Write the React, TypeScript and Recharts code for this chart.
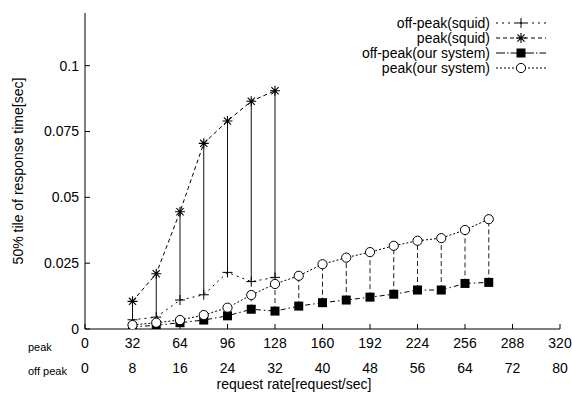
import React from 'react';
import { LineChart, Line, XAxis, YAxis, Legend, Label } from 'recharts';

// x positions on the "peak" scale (off-peak rate = peak / 4)
const squidRates = [32, 48, 64, 80, 96, 112, 128];
const offPeakSquid = [0.0035, 0.0045, 0.011, 0.013, 0.0215, 0.018, 0.0196];
const peakSquid = [0.0105, 0.021, 0.0445, 0.0705, 0.079, 0.0865, 0.0905];

const ourRates = [32, 48, 64, 80, 96, 112, 128, 144, 160, 176, 192, 208, 224, 240, 256, 272];
const offPeakOurs = [0.0008, 0.0014, 0.0024, 0.0034, 0.005, 0.0075, 0.0068, 0.0087, 0.01, 0.011, 0.0121, 0.0132, 0.0148, 0.0148, 0.0173, 0.0177];
const peakOurs = [0.0015, 0.0024, 0.0034, 0.0053, 0.0081, 0.0129, 0.0171, 0.0202, 0.0246, 0.0271, 0.0292, 0.0316, 0.0335, 0.0345, 0.0376, 0.0417];

const peakTicks = [0, 32, 64, 96, 128, 160, 192, 224, 256, 288, 320];
const offPeakTicks = [0, 8, 16, 24, 32, 40, 48, 56, 64, 72, 80];
const yTicks = [0, 0.025, 0.05, 0.075, 0.1];

const seriesNames = ['off-peak(squid)', 'peak(squid)', 'off-peak(our system)', 'peak(our system)'];
const xRowNames = ['peak', 'off peak'];
const xTitle = 'request rate[request/sec]';
const yTitle = '50% tile of response time[sec]';

const squidOff = squidRates.map((x, i) => ({ x, y: offPeakSquid[i] }));
const squidPeak = squidRates.map((x, i) => ({ x, y: peakSquid[i] }));
const oursOff = ourRates.map((x, i) => ({ x, y: offPeakOurs[i] }));
const oursPeak = ourRates.map((x, i) => ({ x, y: peakOurs[i] }));

const squidBars = squidRates.map((x, i) => [{ x, y: offPeakSquid[i] }, { x, y: peakSquid[i] }]);
const oursBars = ourRates.map((x, i) => [{ x, y: offPeakOurs[i] }, { x, y: peakOurs[i] }]);

const FONT = '"Liberation Sans", Arial, Helvetica, sans-serif';

const PlusMark = ({ cx, cy }: any) => (
  <path d={`M${cx - 5},${cy}H${cx + 5}M${cx},${cy - 5}V${cy + 5}`} stroke="#000" strokeWidth={1} fill="none" />
);
const StarMark = ({ cx, cy }: any) => (
  <path
    d={`M${cx - 5},${cy}H${cx + 5}M${cx},${cy - 5}V${cy + 5}M${cx - 3.6},${cy - 3.6}L${cx + 3.6},${cy + 3.6}M${cx - 3.6},${cy + 3.6}L${cx + 3.6},${cy - 3.6}`}
    stroke="#000"
    strokeWidth={1.1}
    fill="none"
  />
);
const SquareMark = ({ cx, cy }: any) => <rect x={cx - 4.5} y={cy - 4.5} width={9} height={9} fill="#000" />;
const CircleMark = ({ cx, cy }: any) => <circle cx={cx} cy={cy} r={4.6} fill="#fff" stroke="#000" strokeWidth={1} />;

const dotFn = (Comp: any) => (p: any) => <Comp key={`d-${p.index}`} cx={p.cx} cy={p.cy} />;

const legendStyles = [
  { dash: '2,4', Mark: PlusMark },
  { dash: '4,3', Mark: StarMark },
  { dash: '9,2,1.5,2', Mark: SquareMark },
  { dash: '2,2', Mark: CircleMark },
];

const renderLegend = () => (
  <svg width={270} height={70} style={{ display: 'block', overflow: 'visible' }}>
    {seriesNames.map((name, i) => {
      const y = 9 + i * 15;
      const { dash, Mark } = legendStyles[i];
      return (
        <g key={name}>
          <text x={190} y={y + 5} textAnchor="end" fontSize={14} fontFamily={FONT} fill="#000">
            {name}
          </text>
          <line x1={196} x2={246} y1={y} y2={y} stroke="#000" strokeWidth={1} strokeDasharray={dash} />
          <Mark cx={221} cy={y} />
        </g>
      );
    })}
  </svg>
);

const DualTick = ({ x, y, payload, index }: any) => (
  <g>
    <text x={x} y={y} dy="0.71em" textAnchor="middle" fontSize={14} fill="#000" fontFamily={FONT}>
      {payload.value}
    </text>
    <text x={x} y={y + 25} dy="0.71em" textAnchor="middle" fontSize={14} fill="#000" fontFamily={FONT}>
      {offPeakTicks[index]}
    </text>
  </g>
);

const rowLabel = (text: string, dyBase: number) => (props: any) => {
  const vb = props.viewBox || { x: 85, y: 329 };
  return (
    <text x={vb.x - 57} y={vb.y + dyBase} fontSize={11} fill="#000" fontFamily={FONT}>
      {text}
    </text>
  );
};

const titleLabel = (props: any) => {
  const vb = props.viewBox || { x: 85, y: 329 };
  return (
    <text x={vb.x + 209} y={vb.y + 60} textAnchor="middle" fontSize={14} fill="#000" fontFamily={FONT}>
      {xTitle}
    </text>
  );
};

export default function App() {
  return (
    <div style={{ position: 'absolute', left: 0, top: 0, width: 572, height: 395, background: '#fff', fontFamily: FONT }}>
      <LineChart width={572} height={395} margin={{ top: 13, right: 12, left: 0, bottom: 0 }}>
        <XAxis
          xAxisId="peak"
          type="number"
          dataKey="x"
          domain={[0, 320]}
          ticks={peakTicks}
          allowDataOverflow
          height={66}
          stroke="#000"
          tickSize={-5}
          tickMargin={14}
          tick={<DualTick />}
        >
          <Label content={rowLabel(xRowNames[0], 22)} />
          <Label content={rowLabel(xRowNames[1], 46)} />
          <Label content={titleLabel} />
        </XAxis>
        <XAxis
          xAxisId="top"
          orientation="top"
          type="number"
          dataKey="x"
          domain={[0, 320]}
          ticks={peakTicks}
          allowDataOverflow
          height={0}
          stroke="#000"
          tickSize={-5}
          tick={false}
        />
        <YAxis
          yAxisId="left"
          type="number"
          domain={[0, 0.12]}
          ticks={yTicks}
          allowDataOverflow
          width={85}
          stroke="#000"
          tickSize={-5}
          tickMargin={11}
          tick={{ fontSize: 14, fill: '#000' }}
          label={{
            value: yTitle,
            angle: -90,
            position: 'insideLeft',
            offset: 18,
            fontSize: 14,
            fill: '#000',
            style: { textAnchor: 'middle' },
          }}
        />
        <YAxis
          yAxisId="right"
          orientation="right"
          type="number"
          domain={[0, 0.12]}
          ticks={yTicks}
          allowDataOverflow
          width={0}
          stroke="#000"
          tickSize={-5}
          tick={false}
        />
        <Legend
          layout="vertical"
          align="center"
          verticalAlign="middle"
          content={renderLegend}
          wrapperStyle={{ left: 300, top: 14, width: 270, height: 70 }}
        />

        {squidBars.map((d, i) => (
          <Line
            key={`sb-${i}`}
            xAxisId="peak"
            yAxisId="left"
            data={d}
            dataKey="y"
            stroke="#111"
            strokeWidth={1}
            dot={false}
            activeDot={false}
            legendType="none"
            isAnimationActive={false}
          />
        ))}
        {oursBars.map((d, i) => (
          <Line
            key={`ob-${i}`}
            xAxisId="peak"
            yAxisId="left"
            data={d}
            dataKey="y"
            stroke="#222"
            strokeWidth={1}
            strokeDasharray="5,3"
            dot={false}
            activeDot={false}
            legendType="none"
            isAnimationActive={false}
          />
        ))}

        <Line
          xAxisId="peak"
          yAxisId="left"
          data={squidOff}
          dataKey="y"
          name={seriesNames[0]}
          stroke="#000"
          strokeWidth={1}
          strokeDasharray="2,4"
          dot={dotFn(PlusMark)}
          activeDot={false}
          isAnimationActive={false}
        />
        <Line
          xAxisId="peak"
          yAxisId="left"
          data={squidPeak}
          dataKey="y"
          name={seriesNames[1]}
          stroke="#000"
          strokeWidth={1}
          strokeDasharray="4,3"
          dot={dotFn(StarMark)}
          activeDot={false}
          isAnimationActive={false}
        />
        <Line
          xAxisId="peak"
          yAxisId="left"
          data={oursOff}
          dataKey="y"
          name={seriesNames[2]}
          stroke="#000"
          strokeWidth={1}
          strokeDasharray="5,3,1.5,3"
          dot={dotFn(SquareMark)}
          activeDot={false}
          isAnimationActive={false}
        />
        <Line
          xAxisId="peak"
          yAxisId="left"
          data={oursPeak}
          dataKey="y"
          name={seriesNames[3]}
          stroke="#000"
          strokeWidth={1}
          strokeDasharray="2,2"
          dot={dotFn(CircleMark)}
          activeDot={false}
          isAnimationActive={false}
        />
      </LineChart>
    </div>
  );
}
